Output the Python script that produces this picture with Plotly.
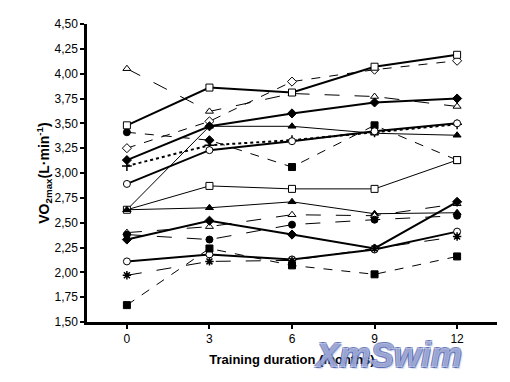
import plotly.graph_objects as go

months = [0, 3, 6, 9, 12]
y_ticks = [1.50, 1.75, 2.00, 2.25, 2.50, 2.75, 3.00, 3.25, 3.50, 3.75, 4.00, 4.25, 4.50]

# Individual swimmers (VO2max, L/min)
s_sq_top = [3.48, 3.86, 3.81, 4.07, 4.19]
s_dia_top = [3.25, 3.52, 3.92, 4.04, 4.13]
s_tri_top = [4.05, 3.62, 3.80, 3.77, 3.67]
s_fdia_top = [3.13, 3.47, 3.60, 3.71, 3.75]
s_ftri_top = [2.63, 3.47, 3.47, 3.40, 3.38]
s_plus = [3.07, 3.28, 3.33, 3.41, 3.49]
s_circ_top = [2.89, 3.23, 3.32, 3.42, 3.50]
s_fsq_top = [3.41, 3.33, 3.06, 3.48, 3.13]
s_sq_mid = [2.63, 2.87, 2.84, 2.84, 3.13]
s_ftri_mid = [2.63, 2.65, 2.71, 2.59, 2.60]
s_tri_low = [2.40, 2.46, 2.58, 2.57, 2.69]
s_fcirc_low = [2.38, 2.33, 2.48, 2.53, 2.57]
s_fdia_low = [2.33, 2.52, 2.38, 2.24, 2.71]
s_circ_low = [2.11, 2.18, 2.13, 2.23, 2.41]
s_star = [1.97, 2.11, 2.12, 2.24, 2.36]
s_fsq_low = [1.67, 2.24, 2.07, 1.98, 2.16]

W = "white"
K = "black"
series = [
    # values, symbol, fill, line width, dash
    (s_fsq_top, ["circle", "diamond", "square", "square", "square"], K, 1, "dash"),
    (s_tri_top, "triangle-up", W, 1, "longdash"),
    (s_dia_top, "diamond", W, 1, "dash"),
    (s_sq_top, "square", W, 2, "solid"),
    (s_fdia_top, "diamond", K, 2, "solid"),
    (s_ftri_top, "triangle-up", K, 1, "solid"),
    (s_plus, "cross-thin", K, 2, "dot"),
    (s_circ_top, "circle", W, 2, "solid"),
    (s_sq_mid, "square", W, 1, "solid"),
    (s_ftri_mid, "triangle-up", K, 1, "solid"),
    (s_tri_low, "triangle-up", W, 1, "longdash"),
    (s_fcirc_low, "circle", K, 1, "longdash"),
    (s_fdia_low, "diamond", K, 2, "solid"),
    (s_circ_low, "circle", W, 2, "solid"),
    (s_star, "asterisk", K, 1, "longdash"),
    (s_fsq_low, "square", K, 1, "dash"),
]

fig = go.Figure()
for vals, sym, fill, lw, dash in series:
    thin = sym in ("cross-thin", "asterisk")
    fig.add_trace(go.Scatter(
        x=months, y=vals, mode="lines+markers",
        line=dict(color=K, width=lw, dash=dash),
        marker=dict(symbol=sym, size=7, color=fill,
                    line=dict(color=K, width=1.5 if thin else 1)),
        showlegend=False, cliponaxis=False,
    ))

outline = "rgba(42,63,154,0.85)"
fig.add_annotation(
    x=312, y=333, xref="paper", yref="paper", xanchor="left", yanchor="top",
    text="<b><i>XmSwim</i></b>", showarrow=False,
    font=dict(family="Liberation Sans, Arial", size=35, color="rgba(238,242,255,0.55)",
              shadow=f"1px 1px 0 {outline}, -1px -1px 0 {outline}, 1px -1px 0 {outline}, -1px 1px 0 {outline}, 2px 2px 1px rgba(143,162,216,0.6)"),
)

fig.update_layout(
    width=510, height=382,
    margin=dict(l=87, r=13, t=24, b=60),
    paper_bgcolor="white", plot_bgcolor="white",
    separators=",.",
    font=dict(family="Liberation Sans, Arial", color=K, size=12),
    xaxis=dict(
        range=[-1.45, 13.45], tickvals=months, ticktext=[str(m) for m in months],
        showline=True, linecolor=K, linewidth=2.5, ticks="outside", ticklen=4,
        tickwidth=2, tickcolor=K, showgrid=False, zeroline=False,
        title=dict(text="<b>Training duration (months)</b>", font=dict(size=13), standoff=10),
    ),
    yaxis=dict(
        range=[1.5, 4.5], tickvals=y_ticks, tickformat=".2f",
        showline=True, linecolor=K, linewidth=2.5, ticks="outside", ticklen=4,
        tickwidth=2, tickcolor=K, showgrid=False, zeroline=False,
        title=dict(text="<b>VO<sub>2max</sub>(L·min<sup>-1</sup>)</b>", font=dict(size=14), standoff=2),
    ),
)

# annotation placed in pixel terms -> convert to paper coords
pw, ph = 510 - 87 - 13, 382 - 24 - 60
ann = fig.layout.annotations[0]
ann.x = (312 - 87) / pw
ann.y = (382 - 60 - 333) / ph

fig.write_html("out.html", config={"displayModeBar": False},
               post_script="document.body.style.margin='0';")
